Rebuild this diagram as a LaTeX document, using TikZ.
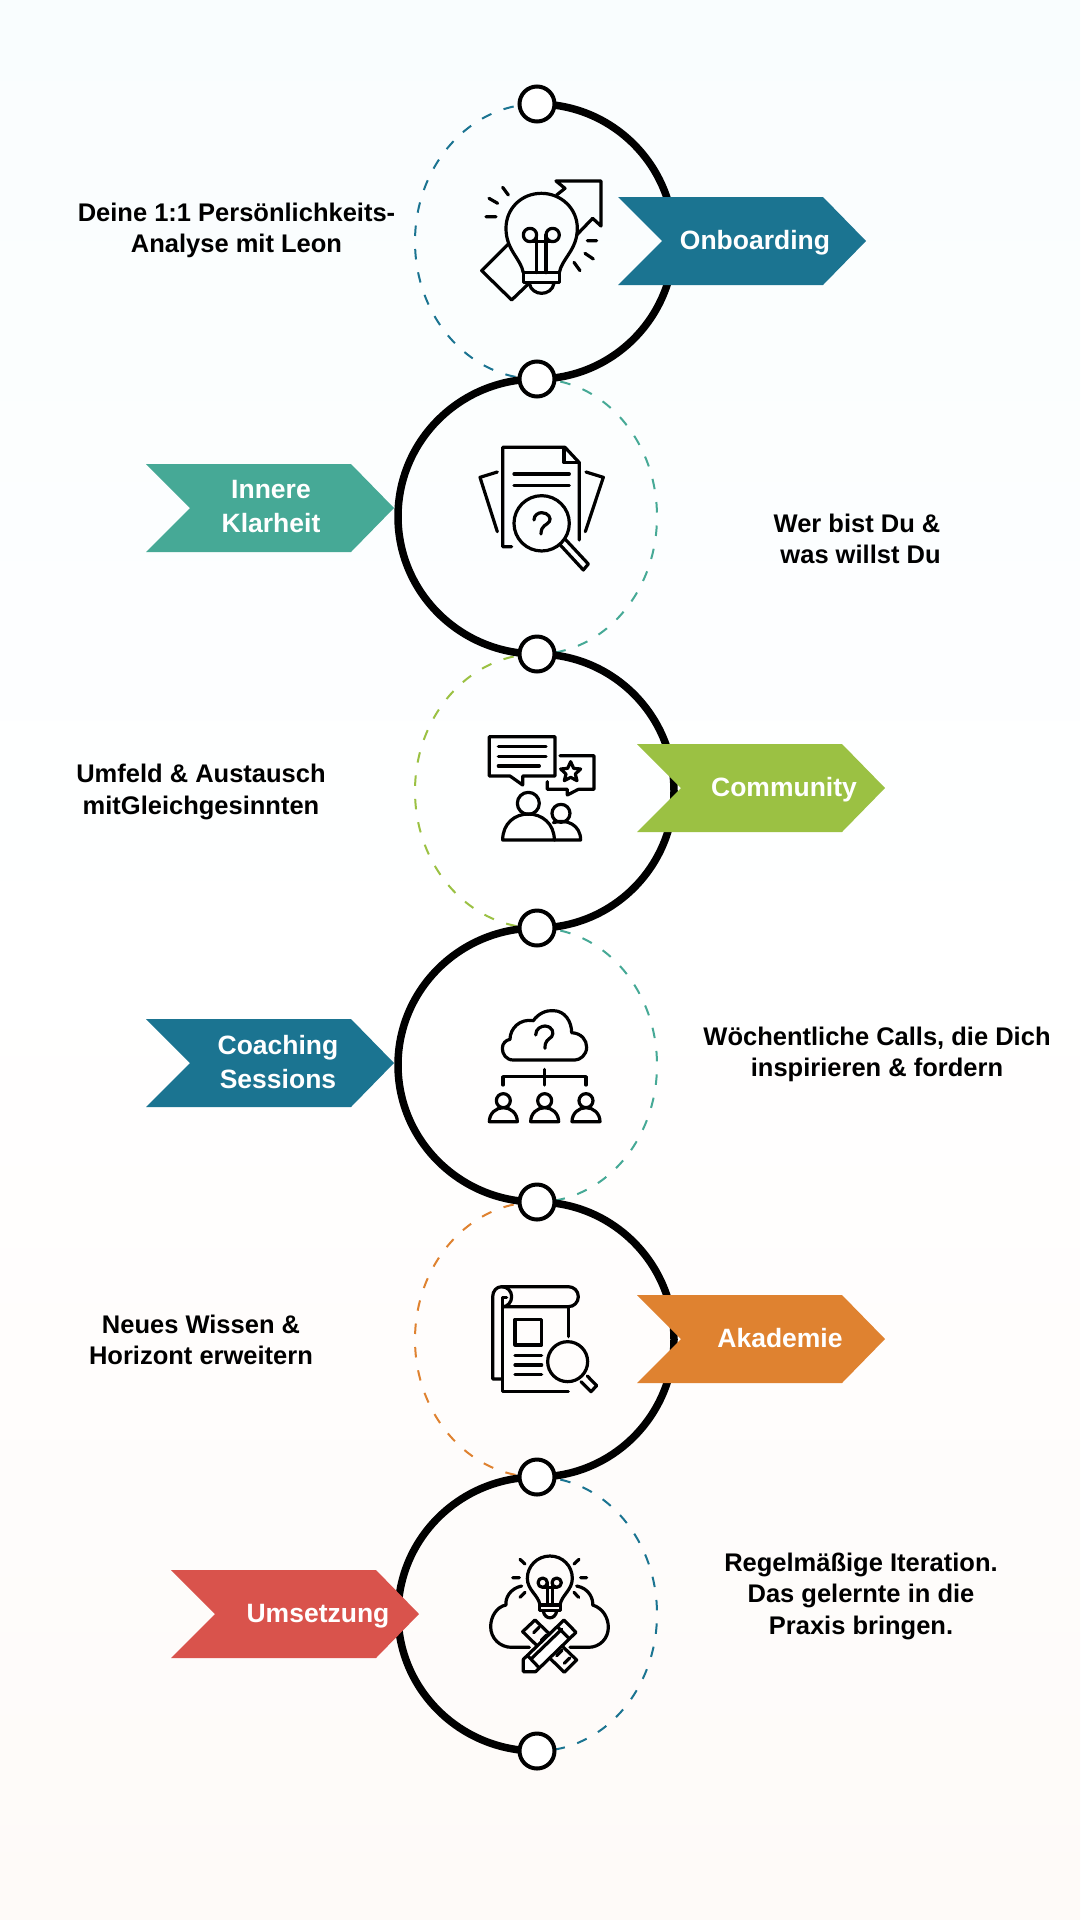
\documentclass[tikz,border=0pt]{standalone}
\usepackage{fontspec}
\setmainfont{Liberation Sans}
\definecolor{cblue}{HTML}{1B7491}
\definecolor{cteal}{HTML}{46A996}
\definecolor{cgreen}{HTML}{9BC143}
\definecolor{corange}{HTML}{DF8230}
\definecolor{cred}{HTML}{D9534C}
\definecolor{bgtop}{HTML}{F9FDFE}
\definecolor{bgbot}{HTML}{FEFAF8}
\pgfdeclarelayer{back}
\pgfsetlayers{back,main}
\tikzset{
  dot/.style={circle,draw=black,fill=white,line width=4pt,minimum size=35pt,inner sep=0pt},
  thickarc/.style={draw=black,line width=7.5pt},
  dasharc/.style={line width=2pt,dash pattern=on 10.5pt off 13pt},
  ico/.style={line width=3.2pt,line cap=round,line join=round,draw=black},
  bodytext/.style={font=\bfseries\fontsize{25.5}{31.5}\selectfont,align=center,text=black,inner sep=0pt},
  bantext/.style={font=\bfseries\fontsize{26.5}{34}\selectfont,align=center,text=white,inner sep=0pt},
}
\newcommand{\bannerpoly}[3]{% left x, top y, colour
  \fill[#3] (#1,#2) -- ++(205,0) -- ++(43,44) -- ++(-43,44) -- ++(-205,0) -- ++(44,-44) -- cycle;}
\begin{document}
\begin{tikzpicture}[x=1pt,y=-1pt]
\useasboundingbox (0,0) rectangle (1080,1920);

% nodes on the line
\path (537,104) node[dot] (n1) {} (537,379) node[dot] (n2) {} (537,654) node[dot] (n3) {}
      (537,928) node[dot] (n4) {} (537,1202) node[dot] (n5) {} (537,1477) node[dot] (n6) {}
      (537,1751) node[dot] (n7) {};

\begin{pgfonlayer}{back}
\shade[top color=bgtop,bottom color=bgbot,middle color=white] (0,0) rectangle (1080,1920);
% dashed halves
\draw[dasharc,cblue] (n1.center) arc[start angle=90,end angle=270,x radius=122pt,y radius=137.5pt];
\draw[dasharc,cteal] (n2.center) arc[start angle=90,end angle=-90,x radius=120pt,y radius=137.5pt];
\draw[dasharc,cgreen] (n3.center) arc[start angle=90,end angle=270,x radius=122pt,y radius=137pt];
\draw[dasharc,cteal] (n4.center) arc[start angle=90,end angle=-90,x radius=120pt,y radius=137pt];
\draw[dasharc,corange] (n5.center) arc[start angle=90,end angle=270,x radius=122pt,y radius=137.5pt];
\draw[dasharc,cblue] (n6.center) arc[start angle=90,end angle=-90,x radius=120pt,y radius=137pt];
% thick halves
\draw[thickarc] (n1.center) arc[start angle=90,end angle=-90,x radius=137pt,y radius=137.5pt];
\draw[thickarc] (n2.center) arc[start angle=90,end angle=270,x radius=139pt,y radius=137.5pt];
\draw[thickarc] (n3.center) arc[start angle=90,end angle=-90,x radius=137pt,y radius=137pt];
\draw[thickarc] (n4.center) arc[start angle=90,end angle=270,x radius=139pt,y radius=137pt];
\draw[thickarc] (n5.center) arc[start angle=90,end angle=-90,x radius=137pt,y radius=137.5pt];
\draw[thickarc] (n6.center) arc[start angle=90,end angle=270,x radius=139pt,y radius=137pt];
\end{pgfonlayer}

% banners
\bannerpoly{618}{197}{cblue}
\bannerpoly{146}{464}{cteal}
\bannerpoly{637}{744}{cgreen}
\bannerpoly{146}{1019}{cblue}
\bannerpoly{637}{1295}{corange}
\bannerpoly{171}{1570}{cred}

\node[bantext] (b1) at (755,242.5) {Onboarding};
\node[bantext] (b2) at (271,507) {Innere\\Klarheit};
\node[bantext] (b3) at (784,789.5) {Community};
\node[bantext] (b4) at (278,1062) {Coaching\\Sessions};
\node[bantext] (b5) at (780,1338) {Akademie};
\node[bantext] (b6) at (318,1616.5) {Umsetzung};

% descriptions
\node[bodytext] (t1) at (236.5,230.5) {Deine 1:1 Persönlichkeits-\\Analyse mit Leon};
\node[bodytext] (t2) at (857,539) {Wer bist Du \&\\\ was willst Du};
\node[bodytext] (t3) at (201,792) {Umfeld \& Austausch\\mitGleichgesinnten};
\node[bodytext] (t4) at (877,1054.5) {Wöchentliche Calls, die Dich\\inspirieren \& fordern};
\node[bodytext] (t5) at (201,1340) {Neues Wissen \&\\Horizont erweitern};
\node[bodytext] (t6) at (861,1596) {Regelmäßige Iteration.\\Das gelernte in die\\Praxis bringen.};

% icon 1: bulb with arrow
\begin{scope}[shift={(400,80)},scale=0.3333,ico]
  \draw (325,492) -- (245,572) -- (335,660) -- (385,612);
  \draw (470,345) -- (495,325) -- (468,303) -- (603,303) -- (603,438) -- (578,415) -- (530,465);
  \draw (370,578) .. controls (362,535) and (318,510) .. (318,445) .. controls (318,385) and (365,340) .. (424,340)
        .. controls (483,340) and (532,385) .. (532,445) .. controls (532,510) and (486,535) .. (478,578);
  \draw (370,578) rectangle (478,607);
  \draw (388,610) .. controls (395,650) and (455,650) .. (462,610);
  \draw (390,465) circle[radius=20] (458,465) circle[radius=20];
  \draw (390,485) -- (458,485) (410,465) -- (410,578) (438,465) -- (438,578);
  \draw (258,410) -- (288,410) (267,355) -- (293,370) (308,322) -- (325,345)
        (562,482) -- (590,482) (555,520) -- (580,537) (522,547) -- (540,572);
\end{scope}

% icon 2: document with question
\begin{scope}[shift={(440,420)},scale=0.3333,ico]
  \draw (215,380) -- (188,380) -- (188,82) -- (375,82) -- (418,128) -- (418,360);
  \draw (372,85) -- (372,128) -- (418,128);
  \draw (222,162) -- (388,162) (222,196) -- (388,196);
  \draw (172,156) -- (120,172) -- (172,335);
  \draw (438,156) -- (490,172) -- (436,335);
  \draw (305,310) circle[radius=83];
  \draw (376,358) -- (445,432) -- (430,450) -- (360,374);
  \draw (282,300) .. controls (282,285) and (295,278) .. (305,278) .. controls (325,278) and (335,295) .. (328,305)
        .. controls (322,315) and (303,315) .. (303,342);
\end{scope}

% icon 3: speech bubbles and people
\begin{scope}[shift={(460,710)},scale=0.3333,ico]
  \draw (188,225) -- (150,198) -- (88,198) -- (88,80) -- (285,80) -- (285,198) -- (188,198) -- cycle;
  \draw (115,110) -- (258,110) (115,139) -- (258,139) (115,168) -- (238,168);
  \draw (300,137) -- (402,137) -- (402,238) -- (355,238) -- (322,255) -- (322,238) -- (262,238) -- (262,215);
  \draw (332,155) -- (341,175) -- (362,177) -- (346,192) -- (351,212) -- (332,202) -- (313,212) -- (318,192) -- (302,177) -- (323,175) -- cycle;
  \draw (205,280) circle[radius=33];
  \draw (128,390) .. controls (128,340) and (165,312) .. (205,312) .. controls (245,312) and (283,340) .. (283,390) -- cycle;
  \draw (303,310) circle[radius=27];
  \draw (280,338) .. controls (320,325) and (362,345) .. (362,390) -- (283,390);
\end{scope}

% icon 4: cloud and team
\begin{scope}[shift={(470,990)},scale=0.3333,ico]
  \draw (130,210) .. controls (108,210) and (97,192) .. (97,175) .. controls (97,160) and (108,150) .. (120,148)
        .. controls (120,115) and (150,85) .. (190,92) .. controls (205,70) and (230,60) .. (250,62)
        .. controls (285,62) and (305,95) .. (305,128) .. controls (335,130) and (350,150) .. (350,172)
        .. controls (350,195) and (330,210) .. (315,210) -- cycle;
  \draw (197,135) .. controls (197,115) and (215,108) .. (225,108) .. controls (250,110) and (252,130) .. (245,140)
        .. controls (235,150) and (225,150) .. (225,175);
  \draw (223,238) -- (223,285) (99,285) -- (99,260) -- (348,260) -- (348,285);
  \foreach \c in {100,224,348}{
    \draw (\c,332) circle[radius=21];
    \draw (\c-42,395) .. controls (\c-42,370) and (\c-22,353) .. (\c,353) .. controls (\c+22,353) and (\c+42,370) .. (\c+42,395) -- cycle;
  }
\end{scope}

% icon 5: scroll and magnifier
\begin{scope}[shift={(470,1265)},scale=0.3333,ico]
  \draw (95,342) -- (68,342) -- (68,95) .. controls (68,78) and (80,65) .. (95,65) -- (295,65)
        .. controls (312,65) and (325,78) .. (325,95) .. controls (325,112) and (312,125) .. (295,125) -- (100,125);
  \draw (95,65) .. controls (112,65) and (125,78) .. (125,95) .. controls (125,112) and (112,125) .. (100,125);
  \draw (110,98) -- (97,98) -- (97,380) -- (295,380);
  \draw (295,125) -- (295,215);
  \draw (135,163) rectangle (215,240);
  \draw (135,271) -- (215,271) (135,300) -- (215,300) (135,329) -- (215,329);
  \draw (293,290) circle[radius=60];
  \draw (352,333) -- (380,362) -- (363,380) -- (333,350);
\end{scope}

% icon 6: bulb, cloud and tools
\begin{scope}[shift={(470,1540)},scale=0.3333,ico]
  \draw (210,195) .. controls (205,165) and (172,150) .. (172,115) .. controls (172,78) and (202,48) .. (240,48)
        .. controls (278,48) and (307,78) .. (307,115) .. controls (307,150) and (275,165) .. (270,195);
  \draw (208,195) rectangle (272,212);
  \draw (220,214) .. controls (225,240) and (255,240) .. (260,214);
  \draw (218,128) circle[radius=14] (260,128) circle[radius=14];
  \draw (218,142) -- (260,142) (232,128) -- (232,195) (248,128) -- (248,195);
  \draw (150,58) -- (165,72) (327,58) -- (312,72) (128,113) -- (148,113) (332,113) -- (350,113)
        (150,172) -- (165,157) (312,157) -- (326,172);
  \draw (155,138) .. controls (120,145) and (105,175) .. (108,195) .. controls (80,200) and (62,230) .. (62,260)
        .. controls (62,295) and (90,322) .. (125,322) -- (178,322);
  \draw (320,138) .. controls (360,145) and (370,180) .. (368,195) .. controls (400,205) and (415,235) .. (415,262)
        .. controls (415,295) and (390,322) .. (355,322) -- (300,322);
  \draw (195,240) -- (158,275) -- (283,397) -- (320,360) -- cycle;
  \draw (207,262) -- (191,278) (230,285) -- (214,301) (253,308) -- (237,324) (276,331) -- (260,347) (299,354) -- (283,370);
  \draw[fill=white] (282,240) -- (318,277) -- (197,395) -- (160,395) -- (160,358) -- cycle;
  \draw (185,355) -- (275,268) (172,346) -- (208,384) (262,260) -- (298,296);
\end{scope}
\end{tikzpicture}
\end{document}
